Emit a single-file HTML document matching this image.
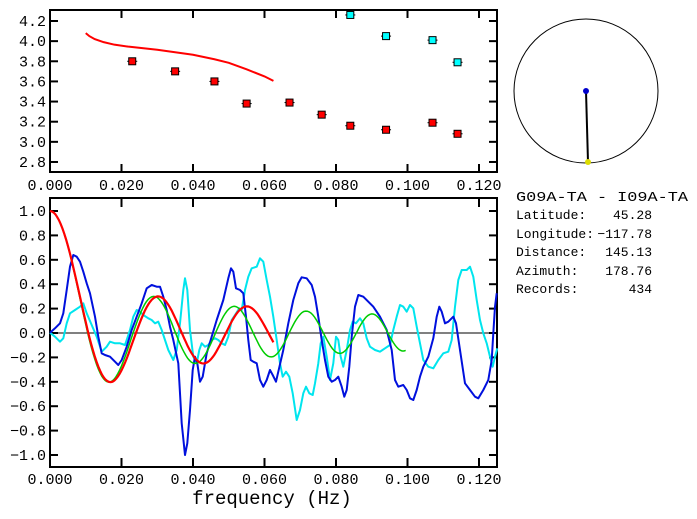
<!DOCTYPE html>
<html><head><meta charset="utf-8"><style>
body{margin:0;background:#fff;width:697px;height:519px;overflow:hidden}
svg{display:block;font-family:"Liberation Mono",monospace}
</style></head><body>
<svg id="s" width="697" height="519" viewBox="0 0 697 519" xmlns="http://www.w3.org/2000/svg">
<rect width="697" height="519" fill="#fff"/>
<g id="g"></g>
<text x="516" y="201" font-size="14" textLength="172" lengthAdjust="spacingAndGlyphs">G09A-TA  -  I09A-TA</text>
<g font-size="13" fill="#000">
<text x="516" y="219">Latitude:</text><text x="652" y="219" text-anchor="end">45.28</text>
<text x="516" y="238">Longitude:</text><text x="652" y="238" text-anchor="end">−117.78</text>
<text x="516" y="256">Distance:</text><text x="652" y="256" text-anchor="end">145.13</text>
<text x="516" y="275">Azimuth:</text><text x="652" y="275" text-anchor="end">178.76</text>
<text x="516" y="293">Records:</text><text x="652" y="293" text-anchor="end">434</text>
</g>
<circle cx="586" cy="91" r="72" fill="none" stroke="#000" stroke-width="1"/>
<line x1="586" y1="91" x2="588" y2="162" stroke="#000" stroke-width="2"/>
<circle cx="586" cy="91" r="3" fill="#0000cc"/>
<circle cx="588" cy="162" r="3" fill="#dddd00"/>
<text x="272" y="504" font-size="19" text-anchor="middle">frequency  (Hz)</text>
</svg>
<script>
var g=document.getElementById('g'),h='';
function X(f){return 50+f*3575;}
function YT(v){return 21+(4.2-v)*100.7;}
function YB(v){return 333-v*122;}
h+='<rect x="50" y="10" width="447" height="162" fill="none" stroke="#000" stroke-width="2"/>';
for(var i=0;i<=6;i++){var x=X(i*0.02);
 if(i>0){h+='<line x1="'+x+'" y1="10" x2="'+x+'" y2="18" stroke="#000" stroke-width="2"/><line x1="'+x+'" y1="172" x2="'+x+'" y2="164" stroke="#000" stroke-width="2"/>';}
 h+='<text x="'+x+'" y="190" font-size="15" text-anchor="middle">'+(i*0.02).toFixed(3)+'</text>';}
for(var v=2.8;v<4.25;v+=0.2){var y=YT(v);
 h+='<line x1="50" y1="'+y+'" x2="58" y2="'+y+'" stroke="#000" stroke-width="2"/><line x1="497" y1="'+y+'" x2="489" y2="'+y+'" stroke="#000" stroke-width="2"/>';
 h+='<text x="46" y="'+(y+5)+'" font-size="15" text-anchor="end">'+v.toFixed(1)+'</text>';}
var rc=[[0.010,4.08],[0.011,4.05],[0.0125,4.02],[0.015,3.99],[0.018,3.965],[0.022,3.945],[0.030,3.915],[0.040,3.865],[0.046,3.82],[0.050,3.785],[0.055,3.72],[0.060,3.65],[0.0625,3.605]];
h+='<polyline fill="none" stroke="#f00" stroke-width="2" points="'+rc.map(function(p){return X(p[0])+','+YT(p[1]);}).join(' ')+'"/>';
var rs=[[0.023,3.80],[0.035,3.70],[0.046,3.60],[0.055,3.38],[0.067,3.39],[0.076,3.27],[0.084,3.16],[0.094,3.12],[0.107,3.19],[0.114,3.08]];
var cs=[[0.084,4.26],[0.094,4.05],[0.107,4.01],[0.114,3.79]];
function sq(p,c){var x=X(p[0]),y=YT(p[1]);return '<line x1="'+(x-5)+'" y1="'+y+'" x2="'+(x+5)+'" y2="'+y+'" stroke="#000"/><rect x="'+(x-3.5)+'" y="'+(y-3.5)+'" width="7" height="7" fill="'+c+'" stroke="#000" stroke-width="1"/>';}
rs.forEach(function(p){h+=sq(p,'#f00');});cs.forEach(function(p){h+=sq(p,'#0ff');});
h+='<rect x="50" y="198" width="447" height="269" fill="none" stroke="#000" stroke-width="2"/>';
for(var i=0;i<=6;i++){var x=X(i*0.02);
 if(i>0){h+='<line x1="'+x+'" y1="198" x2="'+x+'" y2="207" stroke="#000" stroke-width="2"/><line x1="'+x+'" y1="467" x2="'+x+'" y2="458" stroke="#000" stroke-width="2"/>';}
 h+='<text x="'+x+'" y="484" font-size="15" text-anchor="middle">'+(i*0.02).toFixed(3)+'</text>';}
for(var k=-5;k<=5;k++){var v=k*0.2,y=YB(v);
 h+='<line x1="50" y1="'+y+'" x2="58" y2="'+y+'" stroke="#000" stroke-width="2"/><line x1="497" y1="'+y+'" x2="489" y2="'+y+'" stroke="#000" stroke-width="2"/>';
 h+='<text x="46" y="'+(y+5)+'" font-size="15" text-anchor="end">'+(v<0?'−':'')+Math.abs(v).toFixed(1)+'</text>';}
h+='<line x1="50" y1="333" x2="497" y2="333" stroke="#000" stroke-width="1"/>';
var cy=[150,428,165,440,180,455,190,445,200,400,210,370,225,360,240,350,250,340,260,370,275,405,290,440,305,485,320,470,330,455,345,460,360,460,375,465,390,420,400,380,410,360,420,365,430,375,445,385,455,390,465,400,475,395,485,420,495,450,505,480,520,510,530,480,540,400,550,300,555,265,562,300,570,420,580,500,590,520,598,480,605,460,615,470,625,465,635,450,645,445,655,450,665,460,675,465,685,440,695,390,705,375,718,355,725,360,735,300,745,260,755,235,770,230,780,205,790,215,800,270,810,320,820,380,830,450,840,520,848,560,858,545,868,560,878,610,890,690,900,660,910,610,918,590,928,610,938,615,945,580,955,520,962,460,970,440,980,500,990,570,1000,520,1008,440,1015,450,1022,500,1030,530,1040,480,1050,420,1058,395,1068,400,1080,385,1090,400,1100,445,1110,470,1125,480,1140,485,1155,475,1170,465,1180,420,1190,380,1200,345,1210,350,1220,365,1230,345,1240,355,1250,410,1260,460,1270,510,1285,530,1300,535,1315,510,1330,490,1345,485,1355,450,1365,350,1375,270,1385,240,1400,240,1410,230,1420,260,1430,330,1440,390,1450,430,1460,460,1470,500,1478,530,1485,500,1492,475];
var bl=[150,428,165,415,180,400,190,370,200,300,210,230,220,195,230,200,240,215,250,245,260,280,270,310,285,380,295,440,305,490,315,495,330,500,345,515,355,525,365,510,380,470,395,420,410,380,425,340,440,295,455,285,470,290,480,290,490,320,500,360,510,410,520,450,535,520,545,700,555,795,562,760,570,660,578,540,585,500,592,520,600,575,608,560,620,490,635,440,650,390,670,330,685,265,693,235,700,245,708,295,720,300,730,310,738,380,745,450,752,510,760,515,770,520,780,570,790,590,800,570,810,540,818,555,828,575,835,545,850,480,865,400,880,330,895,280,905,262,920,265,935,285,945,320,955,380,965,450,975,510,985,560,995,575,1005,570,1015,560,1025,590,1033,620,1040,600,1048,530,1055,440,1065,350,1075,315,1090,320,1105,335,1120,350,1140,380,1160,420,1175,480,1185,570,1195,590,1210,585,1220,600,1230,625,1240,630,1250,600,1260,560,1270,530,1285,500,1300,445,1310,380,1318,350,1325,365,1335,400,1345,395,1360,380,1368,400,1380,480,1395,580,1410,600,1425,620,1435,625,1450,600,1465,570,1475,510,1480,430,1485,350,1490,310];
function pl(a,c){var s=[];for(var i=0;i<a.length;i+=2)s.push((a[i]/3).toFixed(1)+','+(190+a[i+1]/3).toFixed(1));return '<polyline fill="none" stroke="'+c+'" stroke-width="2" stroke-linejoin="round" points="'+s.join(' ')+'"/>';}
h+=pl(cy,'#00e5ee');h+=pl(bl,'#0010dd');
function J0(x){var s=0,t=1;for(var k=0;k<60;k++){if(k>0)t*=-(x*x/4)/(k*k);s+=t;}return s;}
function j0(x){if(x<12)return J0(x);return Math.sqrt(2/(Math.PI*x))*(Math.cos(x-Math.PI/4)+Math.sin(x-Math.PI/4)/(8*x));}
var gp=[],rp=[];
for(var f=0;f<=0.1;f+=0.0005){gp.push(X(f).toFixed(1)+','+YB(j0(f*(220+750*f))).toFixed(1));}
for(var f=0;f<=0.0626;f+=0.0005){rp.push(X(f).toFixed(1)+','+YB(j0(f*(220+400*f))).toFixed(1));}
h+='<polyline fill="none" stroke="#00cc00" stroke-width="1.5" points="'+gp.join(' ')+'"/>';
h+='<polyline fill="none" stroke="#f00" stroke-width="2.2" points="'+rp.join(' ')+'"/>';
g.innerHTML=h;
</script>
</body></html>
